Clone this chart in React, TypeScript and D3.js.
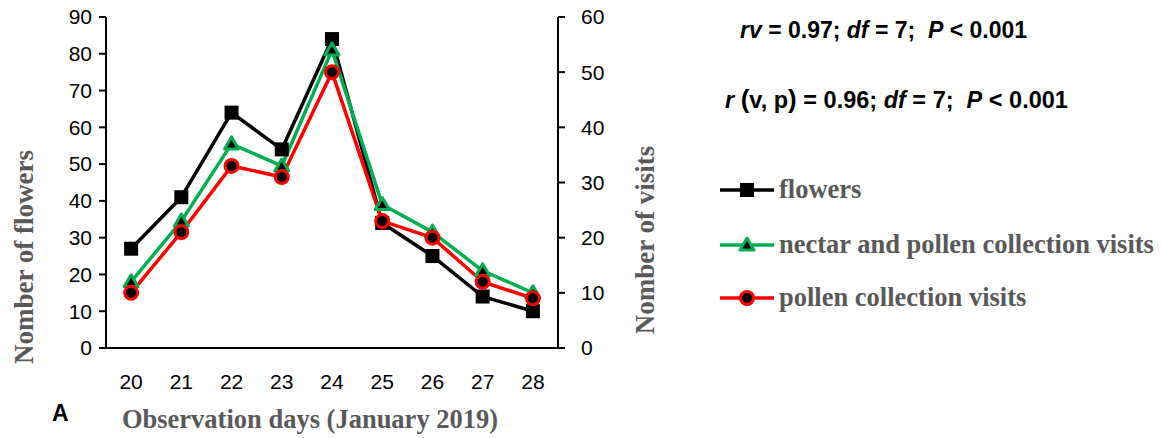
import React from "react";
import * as d3 from "d3";

const days = ["20", "21", "22", "23", "24", "25", "26", "27", "28"];
const flowers = [27, 41, 64, 54, 84, 34, 25, 14, 10];
const nectarPollenVisits = [12, 23, 37, 33, 54, 26, 21, 14, 10];
const pollenVisits = [10, 21, 33, 31, 50, 23, 20, 12, 9];
const leftTicks = [0, 10, 20, 30, 40, 50, 60, 70, 80, 90];
const rightTicks = [0, 10, 20, 30, 40, 50, 60];
const legendLabels = ["flowers", "nectar and pollen collection visits", "pollen collection visits"];

const W = 1161, H = 438;
const L = 106, R = 558, T = 17, B = 348;
const sans = "'Liberation Sans', Arial, sans-serif";
const serif = "'Liberation Serif', 'Times New Roman', serif";
const gray = "#595959";
const NB = "\u00A0";

export default function App() {
  const x = d3.scalePoint<string>().domain(days).range([L, R]).padding(0.5);
  const yL = d3.scaleLinear().domain([0, 90]).range([B, T]);
  const yR = d3.scaleLinear().domain([0, 60]).range([B, T]);
  const line = (ys: d3.ScaleLinear<number, number>) =>
    d3.line<number>().x((_, i) => x(days[i])!).y((v) => ys(v));

  const square = (cx: number, cy: number, k: string | number) => (
    <rect key={k} x={cx - 7} y={cy - 7} width={14} height={14} fill="#000" />
  );
  const tri = (cx: number, cy: number, k: string | number) => (
    <path key={k} d={`M${cx},${cy - 7} L${cx + 7},${cy + 5} L${cx - 7},${cy + 5} Z`}
      fill="#000" stroke="#00B050" strokeWidth={3} strokeLinejoin="round" />
  );
  const circ = (cx: number, cy: number, k: string | number) => (
    <circle key={k} cx={cx} cy={cy} r={6.5} fill="#000" stroke="#FF0000" strokeWidth={3} />
  );

  const series = [
    { vals: flowers, scale: yL, color: "#000", marker: square },
    { vals: nectarPollenVisits, scale: yR, color: "#00B050", marker: tri },
    { vals: pollenVisits, scale: yR, color: "#FF0000", marker: circ },
  ];
  const legendY = [190, 245, 298];

  return (
    <svg width={W} height={H} style={{ position: "absolute", left: 0, top: 0 }}>
      <rect width={W} height={H} fill="#fff" />
      {/* axes */}
      <line x1={L} x2={L} y1={T} y2={B} stroke="#000" strokeWidth={2} />
      <line x1={R} x2={R} y1={T} y2={B} stroke="#000" strokeWidth={2} />
      <line x1={L - 7} x2={R} y1={B} y2={B} stroke="#000" strokeWidth={2} />
      {leftTicks.map((t) => (
        <g key={"l" + t}>
          <line x1={L - 7} x2={L} y1={yL(t)} y2={yL(t)} stroke="#000" strokeWidth={2} />
          <text x={92} y={yL(t)} dy="0.35em" textAnchor="end" fontFamily={sans} fontSize={21}>{t}</text>
        </g>
      ))}
      {rightTicks.map((t) => (
        <g key={"r" + t}>
          <line x1={R} x2={R + 7} y1={yR(t)} y2={yR(t)} stroke="#000" strokeWidth={2} />
          <text x={581} y={yR(t)} dy="0.35em" textAnchor="start" fontFamily={sans} fontSize={21}>{t}</text>
        </g>
      ))}
      {days.map((d) => (
        <text key={"x" + d} x={x(d)} y={389} textAnchor="middle" fontFamily={sans} fontSize={21}>{d}</text>
      ))}
      {/* lines */}
      {series.map((s, i) => (
        <path key={"p" + i} d={line(s.scale)(s.vals)!} fill="none" stroke={s.color} strokeWidth={3.5} strokeLinejoin="round" />
      ))}
      {series.map((s, i) => (
        <g key={"m" + i}>{s.vals.map((v, j) => s.marker(x(days[j])!, s.scale(v), j))}</g>
      ))}
      {/* axis titles */}
      <text transform="translate(33,257) rotate(-90)" textAnchor="middle" fontFamily={serif} fontWeight="bold" fontSize={27} fill={gray}>Nomber of flowers</text>
      <text transform="translate(654,240) rotate(-90)" textAnchor="middle" fontFamily={serif} fontWeight="bold" fontSize={27} fill={gray}>Nomber of visits</text>
      <text x={310} y={428} textAnchor="middle" fontFamily={serif} fontWeight="bold" fontSize={26.5} fill={gray}>Observation days (January 2019)</text>
      <text x={52} y={421} fontFamily={sans} fontWeight="bold" fontSize={23}>A</text>
      {/* annotations */}
      <text x={740} y={38} fontFamily={sans} fontWeight="bold" fontSize={23}>
        <tspan fontStyle="italic">rv</tspan> = 0.97; <tspan fontStyle="italic">df</tspan> = 7;{NB} <tspan fontStyle="italic">P</tspan> {"< 0.001"}
      </text>
      <text x={725} y={108} fontFamily={sans} fontWeight="bold" fontSize={23.5}>
        <tspan fontStyle="italic">r</tspan> <tspan fontSize={26}>(</tspan>v, p<tspan fontSize={26}>)</tspan> = 0.96; <tspan fontStyle="italic">df</tspan> = 7;{NB} <tspan fontStyle="italic">P</tspan> {"< 0.001"}
      </text>
      {/* legend */}
      {series.map((s, i) => (
        <g key={"lg" + i}>
          <line x1={720} x2={774} y1={legendY[i]} y2={legendY[i]} stroke={s.color} strokeWidth={3.5} />
          {s.marker(747, legendY[i], "lgm" + i)}
          <text x={779} y={legendY[i]} dy="0.32em" fontFamily={serif} fontWeight="bold" fontSize={26.5} fill={gray}>{legendLabels[i]}</text>
        </g>
      ))}
    </svg>
  );
}
